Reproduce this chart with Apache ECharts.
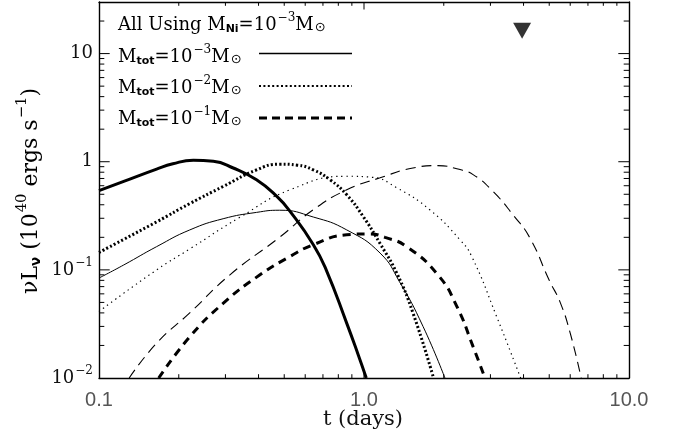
<!DOCTYPE html>
<html><head><meta charset="utf-8">
<script src="https://cdn.jsdelivr.net/npm/echarts@6/dist/echarts.min.js"></script>
<style>html,body{margin:0;padding:0;background:#fff}#c{width:676px;height:443px}</style>
</head><body><div id="c"></div>
<script>
// ---- data (t in days, nuL_nu in 1e40 erg/s) ----
const xRange = [0.1, 10];
const yRange = [0.01, 30];
const xTicks = [0.1, 1, 10];
const xTickLabels = ['0.1', '1.0', '10.0'];
const yTicks = [0.01, 0.1, 1, 10];
const yTickLabels = ['{b|10}{s|−2}', '{b|10}{s|−1}', '{b|1}', '{b|10}'];
const xMajorInner = [1];
const yMajorInner = [0.1, 1, 10];
const xMinor = [0.2,0.3,0.4,0.5,0.6,0.7,0.8,0.9,2,3,4,5,6,7,8,9];
const yMinor = [0.02,0.03,0.04,0.05,0.06,0.07,0.08,0.09,0.2,0.3,0.4,0.5,0.6,0.7,0.8,0.9,2,3,4,5,6,7,8,9,20];

// Mtot = 1e-3 (solid)
const solidThick = [[0.1,0.54],[0.124,0.658],[0.165,0.855],[0.19,0.957],[0.227,1.03],[0.27,1.01],[0.321,0.875],[0.393,0.68],[0.469,0.478],[0.526,0.347],[0.644,0.171],[0.72,0.1],[0.861,0.032],[0.95,0.0165],[1.02,0.01]];
const solidThin = [[0.1,0.084],[0.124,0.111],[0.165,0.164],[0.22,0.234],[0.294,0.297],[0.393,0.34],[0.48,0.356],[0.644,0.308],[0.861,0.234],[1.15,0.143],[1.36,0.078],[1.67,0.03],[2.02,0.01]];
// Mtot = 1e-2 (dotted)
const dotThick = [[0.1,0.145],[0.165,0.278],[0.22,0.41],[0.294,0.59],[0.393,0.84],[0.48,0.95],[0.56,0.93],[0.644,0.84],[0.745,0.68],[0.861,0.494],[0.994,0.31],[1.15,0.175],[1.33,0.093],[1.53,0.04],[1.83,0.01]];
const dotThin = [[0.1,0.0412],[0.165,0.1],[0.22,0.156],[0.34,0.306],[0.526,0.55],[0.861,0.734],[1.072,0.718],[1.33,0.574],[1.77,0.36],[2.3,0.19],[2.55,0.133],[3.17,0.0367],[3.9,0.01]];
// Mtot = 1e-1 (dashed)
const dashThick = [[0.168,0.01],[0.22,0.024],[0.294,0.049],[0.405,0.09],[0.526,0.133],[0.644,0.171],[0.861,0.211],[1.05,0.215],[1.2,0.2],[1.45,0.164],[1.9,0.09],[2.24,0.046],[2.58,0.0195],[2.86,0.01]];
const dashThin = [[0.13,0.01],[0.165,0.021],[0.22,0.04],[0.312,0.09],[0.48,0.2],[0.644,0.36],[0.861,0.55],[1.15,0.71],[1.53,0.875],[1.9,0.92],[2.24,0.86],[2.58,0.76],[3.07,0.53],[3.66,0.32],[4.23,0.197],[5.0,0.08],[5.5,0.05],[6.0,0.026],[6.6,0.01]];
// upper limit marker
const upperLimit = [[3.95, 16.3]];

const SERIF = '"DejaVu Serif", serif';
const GRID = {left: 99, right: 47, top: 2, bottom: 65};
const W = 676, H = 443;
const chart = echarts.init(document.getElementById('c'));

function lab(list, labels) {
  return function (v) {
    for (let i = 0; i < list.length; i++) {
      if (Math.abs(Math.log10(v) - Math.log10(list[i])) < 1e-6) return labels[i];
    }
    return '';
  };
}
function axLine() { return {show: true, lineStyle: {color: '#000', width: 1.4}}; }

function lineSeries(data, width, type) {
  return {type: 'line', data: data, showSymbol: false, smooth: 0.5,
    lineStyle: {color: '#000', width: width, type: type, cap: 'butt'}, z: 3};
}

// tick marks as short line segments drawn through the axes' scales
const pxPerDecX = (W - GRID.left - GRID.right) / Math.log10(xRange[1] / xRange[0]);
const pxPerDecY = (H - GRID.top - GRID.bottom) / Math.log10(yRange[1] / yRange[0]);
const tickSeries = [];
function seg(a, b) {
  tickSeries.push({type: 'line', data: [a, b], showSymbol: false, silent: true, z: 6, clip: false,
    lineStyle: {color: '#000', width: 1, type: 'solid', cap: 'butt'}, emphasis: {disabled: true}});
}
function xt(v, len) {
  const f = Math.pow(10, len / pxPerDecY);
  seg([v, yRange[0]], [v, yRange[0] * f]);
  seg([v, yRange[1]], [v, yRange[1] / f]);
}
function yt(v, len) {
  const f = Math.pow(10, len / pxPerDecX);
  seg([xRange[0], v], [xRange[0] * f, v]);
  seg([xRange[1], v], [xRange[1] / f, v]);
}
xMinor.forEach(v => xt(v, 3.8));
xMajorInner.forEach(v => xt(v, 7.5));
yMinor.forEach(v => yt(v, 5.3));
yMajorInner.forEach(v => yt(v, 10.7));

const richY = {
  b: {fontFamily: SERIF, fontSize: 18, color: '#111', verticalAlign: 'middle'},
  s: {fontFamily: SERIF, fontSize: 12, color: '#111', verticalAlign: 'middle', padding: [0, 0, 14, 1]}
};
function richT(fs) {
  return {
    n: {fontFamily: SERIF, fontSize: fs, color: '#111', verticalAlign: 'middle'},
    sp: {fontFamily: SERIF, fontSize: fs * 0.67, color: '#111', verticalAlign: 'middle', padding: [0, 0, fs * 0.78, 1]},
    sb: {fontFamily: '"DejaVu Sans", sans-serif', fontSize: fs * 0.61, fontWeight: 'bold', color: '#111', verticalAlign: 'middle', padding: [fs * 0.5, 0, 0, 0]},
    sun: {fontFamily: '"DejaVu Sans", sans-serif', fontSize: fs * 0.72, color: '#111', verticalAlign: 'middle', padding: [fs * 0.28, 0, 0, 1]}
  };
}

chart.setOption({
  animation: false,
  grid: GRID,
  xAxis: [
    {type: 'log', min: xRange[0], max: xRange[1], position: 'bottom',
     axisLine: axLine(), axisTick: {show: false}, splitLine: {show: false},
     axisLabel: {formatter: lab(xTicks, xTickLabels), margin: 12, color: '#555', fontFamily: '"Liberation Sans", sans-serif', fontSize: 20}},
    {type: 'log', min: xRange[0], max: xRange[1], position: 'top',
     axisLine: axLine(), axisTick: {show: false}, splitLine: {show: false}, axisLabel: {show: false}}
  ],
  yAxis: [
    {type: 'log', min: yRange[0], max: yRange[1], position: 'left',
     axisLine: axLine(), axisTick: {show: false}, splitLine: {show: false},
     axisLabel: {formatter: lab(yTicks, yTickLabels), margin: 6, rich: richY}},
    {type: 'log', min: yRange[0], max: yRange[1], position: 'right',
     axisLine: axLine(), axisTick: {show: false}, splitLine: {show: false}, axisLabel: {show: false}}
  ],
  series: [
    lineSeries(solidThick, 3, 'solid'),
    lineSeries(solidThin, 1, 'solid'),
    lineSeries(dotThick, 3, [2, 2.2]),
    lineSeries(dotThin, 1.2, [1.3, 3.8]),
    lineSeries(dashThick, 3, [8, 6]),
    lineSeries(dashThin, 1.1, [10, 6]),
    {type: 'scatter', data: upperLimit, symbol: 'triangle', symbolRotate: 180, symbolSize: [18, 16],
     itemStyle: {color: '#000'}, z: 4}
  ].concat(tickSeries),
  graphic: [
    {type: 'text', left: 118, top: 12, style: {text: '{n|All Using M}{sb|Ni}{n|=10}{sp|−3}{n|M}{sun|⊙}', rich: richT(18)}},
    {type: 'text', left: 118, top: 44, style: {text: '{n|M}{sb|tot}{n|=10}{sp|−3}{n|M}{sun|⊙}', rich: richT(18)}},
    {type: 'text', left: 118, top: 75, style: {text: '{n|M}{sb|tot}{n|=10}{sp|−2}{n|M}{sun|⊙}', rich: richT(18)}},
    {type: 'text', left: 118, top: 106, style: {text: '{n|M}{sb|tot}{n|=10}{sp|−1}{n|M}{sun|⊙}', rich: richT(18)}},
    {type: 'line', shape: {x1: 259, y1: 53.5, x2: 352, y2: 53.5}, style: {stroke: '#000', lineWidth: 1.3}},
    {type: 'line', shape: {x1: 259, y1: 86, x2: 352, y2: 86}, style: {stroke: '#000', lineWidth: 2.2, lineDash: [2, 2.4]}},
    {type: 'line', shape: {x1: 259, y1: 118, x2: 352, y2: 118}, style: {stroke: '#000', lineWidth: 3, lineDash: [8, 5]}},
    {type: 'text', x: 363, y: 420, style: {text: 't (days)', fontFamily: SERIF, fontSize: 21, fill: '#111', align: 'center', verticalAlign: 'middle'}},
    {type: 'text', x: 31, y: 191, rotation: Math.PI / 2,
     style: {text: '{n|νL}{sb|ν}{n| (10}{sp|40}{n| ergs s}{sp|−1}{n|)}', rich: richT(22), align: 'center', verticalAlign: 'middle'}}
  ]
});
</script></body></html>
